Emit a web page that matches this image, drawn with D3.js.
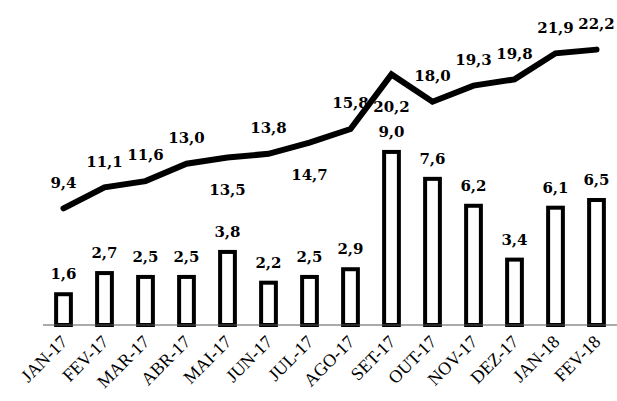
<!DOCTYPE html>
<html>
<head>
<meta charset="utf-8">
<script src="https://cdn.jsdelivr.net/npm/d3@7"></script>
<style>
  body { margin: 0; background: #fff; }
  svg { display: block; }
</style>
</head>
<body>
<script>
const months = ['JAN-17', 'FEV-17', 'MAR-17', 'ABR-17', 'MAI-17', 'JUN-17', 'JUL-17',
  'AGO-17', 'SET-17', 'OUT-17', 'NOV-17', 'DEZ-17', 'JAN-18', 'FEV-18'];
const barValues = [1.6, 2.7, 2.5, 2.5, 3.8, 2.2, 2.5, 2.9, 9.0, 7.6, 6.2, 3.4, 6.1, 6.5];
const lineValues = [9.4, 11.1, 11.6, 13.0, 13.5, 13.8, 14.7, 15.8, 20.2, 18.0, 19.3, 19.8, 21.9, 22.2];
// which line labels sit under the line instead of above it
const labelBelow = [false, false, false, false, true, false, true, false, true, false, false, false, false, false];

const width = 617;
const height = 401;
const base = 325;

const fmt = v => v.toFixed(1).replace('.', ',');

const svg = d3.select('body').append('svg')
    .attr('width', width)
    .attr('height', height);

const x = d3.scaleBand()
    .domain(months)
    .range([43, 617])
    .paddingInner(0.64)
    .paddingOuter(0.32);

const yBar = d3.scaleLinear().domain([0, 16.9]).range([base, 0]);
const yLine = d3.scaleLinear().domain([0, 26.2]).range([base, 0]);

const cx = d => x(d) + x.bandwidth() / 2;

// bars
svg.selectAll('.bar')
    .data(barValues)
  .enter().append('rect')
    .attr('class', 'bar')
    .attr('x', (d, i) => x(months[i]))
    .attr('y', d => yBar(d))
    .attr('width', x.bandwidth())
    .attr('height', d => base - yBar(d))
    .style('fill', '#fff')
    .style('stroke', '#000')
    .style('stroke-width', 4);

// baseline
svg.append('line')
    .attr('x1', 43).attr('x2', 617)
    .attr('y1', base).attr('y2', base)
    .style('stroke', '#555')
    .style('stroke-width', 1);

// line
const line = d3.line()
    .x((d, i) => cx(months[i]))
    .y(d => yLine(d));

svg.append('path')
    .datum(lineValues)
    .attr('d', line)
    .style('fill', 'none')
    .style('stroke', '#000')
    .style('stroke-width', 6)
    .style('stroke-linecap', 'round')
    .style('stroke-linejoin', 'miter');

const labelFont = 'bold 15px "DejaVu Serif", serif';

svg.selectAll('.barlabel')
    .data(barValues)
  .enter().append('text')
    .attr('class', 'barlabel')
    .attr('x', (d, i) => cx(months[i]))
    .attr('y', d => yBar(d) - 20)
    .attr('dy', '.35em')
    .attr('text-anchor', 'middle')
    .style('font', labelFont)
    .text(d => fmt(d));

svg.selectAll('.linelabel')
    .data(lineValues)
  .enter().append('text')
    .attr('class', 'linelabel')
    .attr('x', (d, i) => cx(months[i]))
    .attr('y', (d, i) => yLine(d) + (labelBelow[i] ? 32 : -26))
    .attr('dy', '.35em')
    .attr('text-anchor', 'middle')
    .style('font', labelFont)
    .text(d => fmt(d));

// axis labels
const xAxis = svg.append('g')
    .attr('transform', 'translate(0,' + base + ')')
    .call(d3.axisBottom(x).tickSize(0).tickPadding(0));
xAxis.select('.domain').remove();
xAxis.selectAll('text')
    .attr('y', 0)
    .attr('dy', 0)
    .attr('transform', 'translate(5,18) rotate(-45)')
    .attr('text-anchor', 'end')
    .style('font', '18px "Liberation Serif", serif')
    .style('fill', '#000');
</script>
</body>
</html>
